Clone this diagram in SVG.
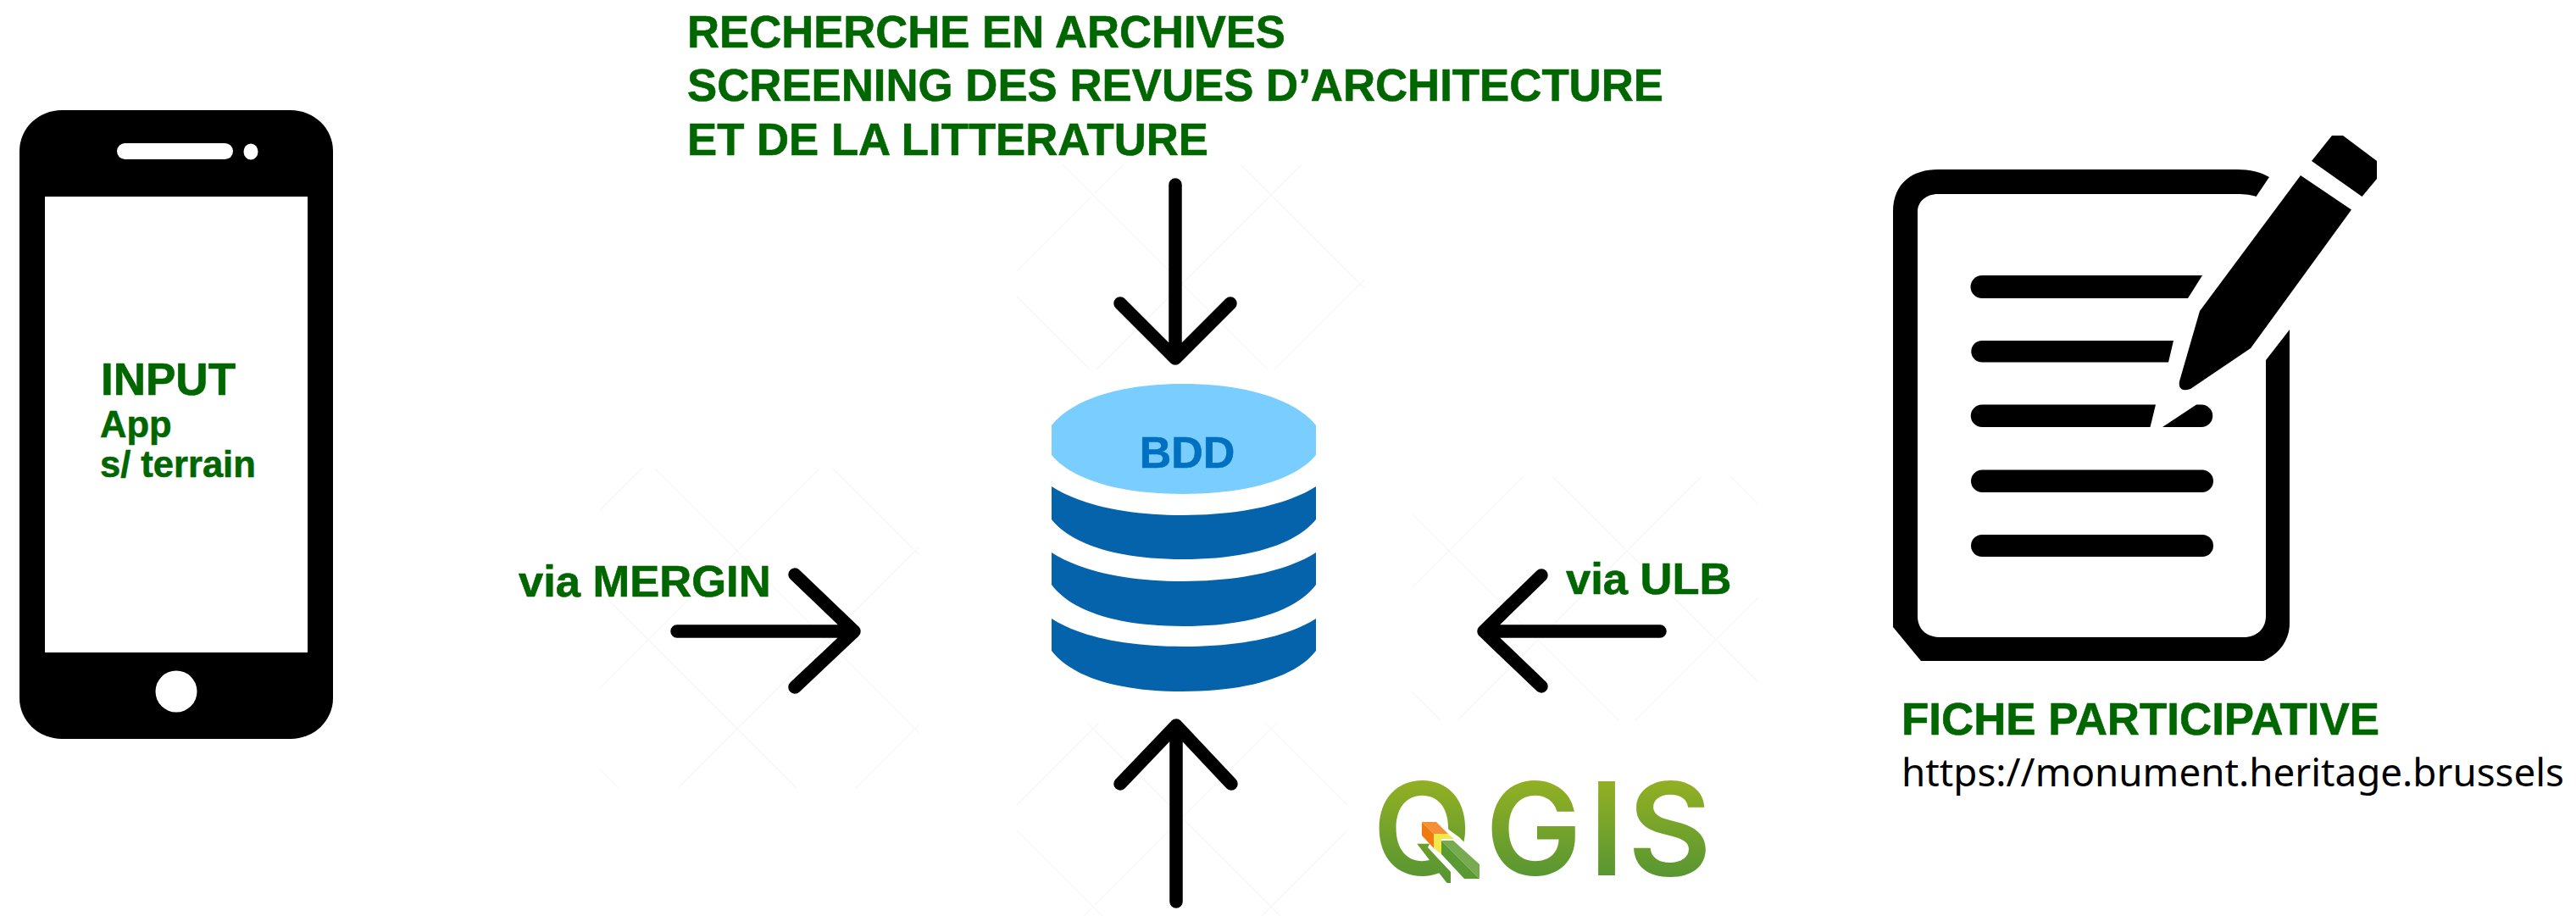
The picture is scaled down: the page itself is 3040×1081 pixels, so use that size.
<svg xmlns="http://www.w3.org/2000/svg" width="3040" height="1081" viewBox="0 0 3040 1081">
<style>
.g{font-family:"Liberation Sans",Arial,sans-serif;font-weight:700;fill:#006600;stroke:#006600;stroke-width:.6}
.s52{font-size:52.500px}
.s54{font-size:54px}
.a{fill:none;stroke:#000;stroke-width:15.5;stroke-linecap:round;stroke-linejoin:round}
.k{fill:#000}
.w{fill:#fff}
.band{fill:#0563ab}
</style>
<defs>
<pattern id="wm" width="210" height="210" patternUnits="userSpaceOnUse" x="30" y="20">
<path d="M0 0L210 210M210 0L0 210" fill="none" stroke="#fafafa" stroke-width="2"/>
</pattern>
<linearGradient id="qg" gradientUnits="userSpaceOnUse" x1="0" y1="920" x2="0" y2="1035">
<stop offset="0" stop-color="#93b023"/><stop offset="1" stop-color="#589632"/>
</linearGradient>
</defs>
<rect width="3040" height="1081" fill="#fff"/>
<g id="watermark">
<rect x="708" y="553" width="377" height="377" fill="url(#wm)"/>
<rect x="1200" y="194" width="410" height="242" fill="url(#wm)"/>
<rect x="1200" y="853" width="390" height="228" fill="url(#wm)"/>
<rect x="1667" y="562" width="408" height="288" fill="url(#wm)"/>
</g>
<g id="phone">
<rect class="k" x="23" y="130" width="370" height="742" rx="50" ry="48"/>
<rect class="w" x="53" y="232" width="310" height="538"/>
<rect class="w" x="138" y="169" width="137" height="19" rx="9.5"/>
<ellipse class="w" cx="296" cy="179" rx="8.5" ry="9.5"/>
<ellipse class="w" cx="208" cy="816" rx="24.5" ry="24.5"/>
<text class="g" font-size="53" x="119" y="466">INPUT</text>
<text class="g" font-size="43.500" x="118" y="516">App</text>
<text class="g" font-size="43.500" x="118" y="563">s/ terrain</text>
</g>
<g id="bdd">
<path fill="#79cdff" d="M1241 502C1265 472 1320 453 1396 453C1472 453 1529 472 1553 502V537C1529 566 1472 583 1396 583C1320 583 1265 566 1241 537Z"/>
<path class="band" d="M1241 574C1275 596 1330 608 1396 608C1462 608 1519 596 1553 574V613C1529 643 1472 660 1396 660C1320 660 1265 643 1241 613Z"/>
<path class="band" d="M1241 652C1275 674 1330 686 1396 686C1462 686 1519 674 1553 652V690C1529 722 1472 739 1396 739C1320 739 1265 722 1241 690Z"/>
<path class="band" d="M1241 730C1275 752 1330 763 1396 763C1462 763 1519 752 1553 730V768C1529 799 1472 816 1396 816C1320 816 1265 799 1241 768Z"/>
<text class="g" font-size="52" x="1401" y="552" text-anchor="middle" style="fill:#0070c0;stroke:#0070c0">BDD</text>
</g>
<g id="fiche">
<path class="k" fill-rule="evenodd" d="M2678 209C2668 203 2655 200 2640 200H2287C2258 200 2234 215 2234 250V740L2267 780H2671C2690 772 2702 755 2702 736V389L2674 425V727C2674 742 2663 752 2648 752H2290C2273 752 2263 742 2263 727V250C2263 238 2273 229 2287 229H2640C2650 229 2657 230 2662.500 232Z"/>
<path class="k" d="M2339 325H2599L2582 352H2339A13.500 13.500 0 0 1 2339 325Z"/>
<path class="k" d="M2339 402H2565L2559 427.500H2339A12.750 12.750 0 0 1 2339 402Z"/>
<path class="k" d="M2339 477.500H2544L2537.500 504H2339A13.250 13.250 0 0 1 2339 477.500Z"/>
<path class="k" d="M2552 504L2592 477.500H2598A13.250 13.250 0 0 1 2598 504Z"/>
<rect class="k" x="2326" y="554.500" width="286" height="26.500" rx="13.250"/>
<rect class="k" x="2326" y="631" width="286" height="26" rx="13"/>
<path class="k" d="M2715 207L2775 247.500L2656 411L2585 459Q2570 464 2572 450L2596 367Z"/>
<path class="k" d="M2752 160H2765L2805 190V211L2787.500 232L2728 190Z"/>
<text class="g s54" x="2244" y="867" textLength="564" lengthAdjust="spacingAndGlyphs">FICHE PARTICIPATIVE</text>
<text x="2244" y="928" font-family="'Noto Sans','Open Sans',sans-serif" font-size="46" fill="#000" textLength="782" lengthAdjust="spacingAndGlyphs">https://monument.heritage.brussels</text>
</g>
<g id="qgis">
<rect class="w" x="1590" y="860" width="480" height="221"/>
<text y="1033" font-family="Inter,Lato,sans-serif" font-weight="600" font-size="152" fill="url(#qg)" x="1620 1753 1875 1921">QGIS</text>
<path class="w" d="M1722 988L1738 1004L1757 1020V1055H1712V1029L1696 1012L1685 1000L1700 972Z"/>
<path fill="#f49138" d="M1678 970H1695L1709 984H1692Z"/>
<path fill="#f17a10" d="M1678 970L1692 984V1001L1678 986Z"/>
<path fill="#f2e84b" d="M1692 984H1709L1716 990H1701V1008L1692 1001Z"/>
<path fill="#78aa4f" d="M1701 992H1715L1746 1020V1037Z"/>
<path fill="#5a9a33" d="M1701 992V1008L1728 1037H1746Z"/>
</g>
<g id="top-label">
<text class="g s54" x="811" y="56" textLength="706" lengthAdjust="spacingAndGlyphs">RECHERCHE EN ARCHIVES</text>
<text class="g s54" x="811" y="119" textLength="1152" lengthAdjust="spacingAndGlyphs">SCREENING DES REVUES D’ARCHITECTURE</text>
<text class="g s54" x="811" y="183" textLength="615" lengthAdjust="spacingAndGlyphs">ET DE LA LITTERATURE</text>
</g>
<g id="labels">
<text class="g s52" x="612" y="704">via MERGIN</text>
<text class="g s52" x="1848" y="701">via ULB</text>
</g>
<g id="connectors">
<path class="a" d="M799 745H1008M938 678L1008 745L938 811"/>
<path class="a" d="M1959 745H1751M1819 679L1751 745L1819 810"/>
<path class="a" d="M1387 218V423M1322 358L1387 423L1452 358"/>
<path class="a" d="M1388 1064V856M1322 925L1388 856L1453 925"/>
</g>
</svg>
